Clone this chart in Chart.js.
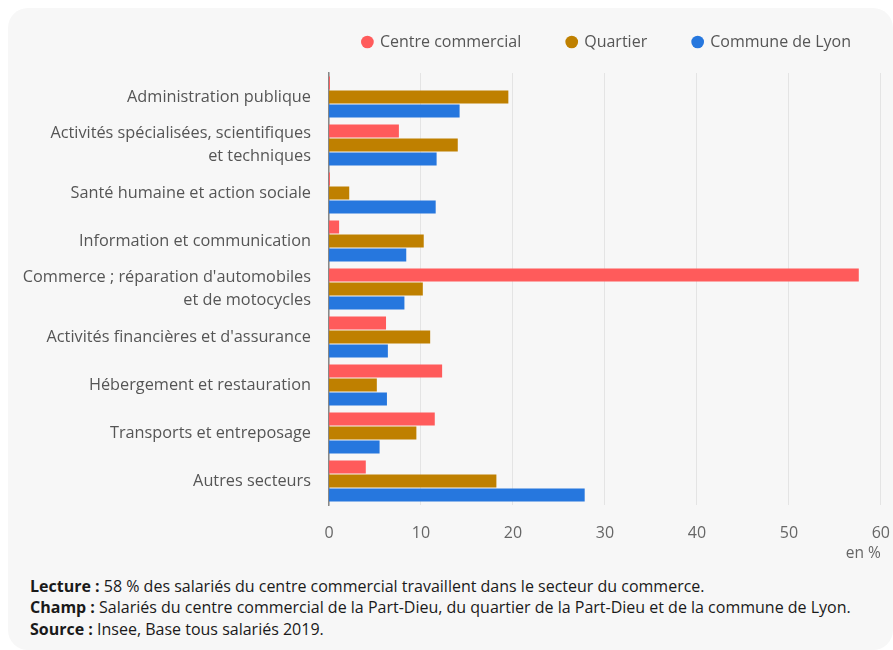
<!DOCTYPE html>
<html>
<head>
<meta charset="utf-8">
<script src="https://cdn.jsdelivr.net/npm/chart.js@4"></script>
<style>
  html, body { margin:0; padding:0; background:#ffffff; width:893px; height:650px; overflow:hidden; }
  #card { position:absolute; left:8px; top:8px; width:885px; height:642px; background:#f7f7f7; border-radius:20px; }
  #wrap { position:absolute; left:0; top:0; width:909px; height:570px; }
  #foot { position:absolute; left:30px; top:575.5px; font-family:"Open Sans", sans-serif; font-size:16px; line-height:21.5px; color:#1a1a1a; white-space:nowrap; }
  #foot b { font-weight:700; }
</style>
</head>
<body>
<div id="card"></div>
<div id="wrap"><canvas id="c" width="909" height="570"></canvas></div>
<div id="foot">
  <div><b>Lecture :</b> 58 % des salariés du centre commercial travaillent dans le secteur du commerce.</div>
  <div><b>Champ :</b> Salariés du centre commercial de la Part-Dieu, du quartier de la Part-Dieu et de la commune de Lyon.</div>
  <div><b>Source :</b> Insee, Base tous salariés 2019.</div>
</div>
<script>
const categories = [
  "Administration publique",
  ["Activités spécialisées, scientifiques", "et techniques"],
  "Santé humaine et action sociale",
  "Information et communication",
  ["Commerce ; réparation d'automobiles", "et de motocycles"],
  "Activités financières et d'assurance",
  "Hébergement et restauration",
  "Transports et entreposage",
  "Autres secteurs"
];
const seriesNames = ["Centre commercial", "Quartier", "Commune de Lyon"];
const centreCommercial = [0.1, 7.6, 0.1, 1.1, 57.6, 6.2, 12.3, 11.5, 4.0];
const quartier = [19.5, 14.0, 2.2, 10.3, 10.2, 11.0, 5.2, 9.5, 18.2];
const communeLyon = [14.2, 11.7, 11.6, 8.4, 8.2, 6.4, 6.3, 5.5, 27.8];
const xTicks = [0, 10, 20, 30, 40, 50, 60];
const colors = ["#ff5b5b", "#bf8000", "#2677de"];

Chart.defaults.font.family = "'Open Sans', sans-serif";

new Chart(document.getElementById('c'), {
  type: 'bar',
  data: {
    labels: categories,
    datasets: [centreCommercial, quartier, communeLyon].map((d, i) => ({
      label: seriesNames[i],
      data: d,
      backgroundColor: colors[i],
      borderWidth: 0,
      categoryPercentage: 0.875,
      barPercentage: 0.93
    }))
  },
  options: {
    indexAxis: 'y',
    responsive: false,
    animation: false,
    devicePixelRatio: 1,
    layout: { padding: { left: 0, right: 12, top: -12, bottom: 0 } },
    plugins: {
      tooltip: { enabled: false },
      legend: {
        position: 'top',
        align: 'end',
        labels: {
          usePointStyle: true,
          pointStyle: 'circle',
          boxWidth: 9,
          boxHeight: 9,
          padding: 46,
          color: '#555',
          font: { size: 16 }
        }
      }
    },
    scales: {
      xTop: {
        type: 'linear',
        position: 'top',
        display: true,
        grid: { display: false, drawTicks: false },
        border: { display: false },
        ticks: { display: false },
        afterFit: s => { s.height = 13; }
      },
      x: {
        min: 0, max: 60,
        position: 'bottom',
        afterBuildTicks: s => { s.ticks = xTicks.map(v => ({ value: v })); },
        afterFit: s => { s.height = 65; },
        grid: { color: '#e4e4e4', lineWidth: 1, drawTicks: false },
        border: { display: false },
        ticks: { color: '#666', font: { size: 16 }, padding: 19 },
        title: { display: true, text: 'en %', align: 'end', color: '#666', font: { size: 15.5 }, padding: { top: 0, bottom: 7 } }
      },
      y: {
        afterFit: s => { s.width = 329; },
        grid: { display: false, drawTicks: false },
        border: { display: true, color: '#888', width: 1.5 },
        ticks: { color: '#555', font: { size: 16.3, lineHeight: 1.42 }, padding: 18, autoSkip: false }
      }
    }
  }
});
</script>
</body>
</html>
